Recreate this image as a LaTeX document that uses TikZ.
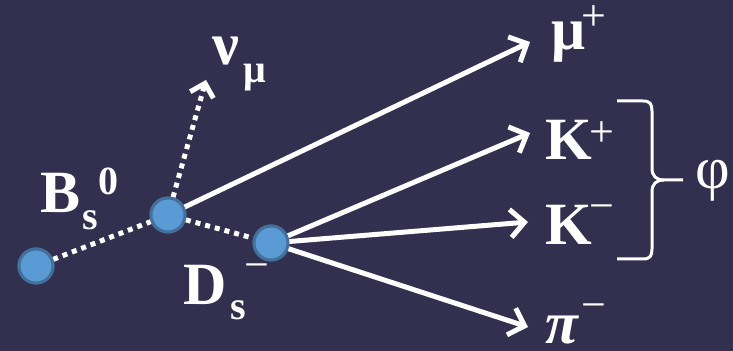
\documentclass[tikz,border=0pt]{standalone}
\usepackage{fontspec}
\setmainfont{Liberation Serif}
\usetikzlibrary{arrows.meta}
\definecolor{bg}{RGB}{51,47,79}
\definecolor{dotfill}{RGB}{91,155,213}
\definecolor{dotline}{RGB}{65,113,156}
\tikzset{
  vtx/.style={circle,fill=dotfill,draw=dotline,line width=1.5pt,minimum size=17pt,inner sep=0pt},
  solidarr/.style={white,line width=2.5pt,line cap=round,-{Straight Barb[length=7pt,width=14pt,line width=2.5pt]}},
  dotln/.style={white,line width=2.5pt,dash pattern=on 2.5pt off 2.5pt},
  dotarr/.style={dotln,-{Straight Barb[length=6pt,width=12pt,line width=2.5pt]}},
  big/.style={text=white,inner sep=0pt,anchor=base west,font=\fontsize{30}{36}\selectfont\bfseries},
  small/.style={text=white,inner sep=0pt,anchor=base west,font=\fontsize{20}{24}\selectfont\bfseries},
  thin/.style={text=white,inner sep=0pt,anchor=center,font=\fontsize{22}{24}\selectfont},
  brace/.style={white,line width=1.5pt}
}
\begin{document}
\begin{tikzpicture}[x=0.5pt,y=-0.5pt]
\fill[bg] (0,0) rectangle (733,351);
\useasboundingbox (0,0) rectangle (733,351);
% vertices
\node[vtx] (b) at (36,266) {};
\node[vtx] (v) at (168,215) {};
\node[vtx] (d) at (271,243) {};
% tip coordinates
\coordinate (nutip) at (206,80);
\coordinate (mutip) at (530,42);
\coordinate (kptip) at (530,133);
\coordinate (kmtip) at (528,222);
\coordinate (pitip) at (528,327);
% connectors
\draw[dotln] (b) -- (v);
\draw[dotln] (v) -- (d);
\draw[dotarr] (v) -- (nutip);
\draw[solidarr] (v) -- (mutip);
\draw[solidarr] (d) -- (kptip);
\draw[solidarr] (d) -- (kmtip);
\draw[solidarr] (d) -- (pitip);
% redraw vertices on top
\node[vtx] at (b) {};
\node[vtx] at (v) {};
\node[vtx] at (d) {};
% labels
\node[big] (B) at (40,213) {B};
\node[small] (Bs) at (82,230) {s};
\node[small] (B0) at (98,195) {0};
\node[big] (nu) at (212,65) {ν};
\node[small] (numu) at (243,83) {μ};
\node[big] (D) at (183,305) {D};
\node[small] (Ds) at (230,320) {s};
\node[thin] (Dm) at (257,272) {−};
\node[big] (mu) at (551,50) {μ};
\node[thin] (mup) at (594,18) {+};
\node[big] (Kp) at (545,160) {K};
\node[thin] (Kpp) at (602,134) {+};
\node[big] (Km) at (545,245) {K};
\node[thin] (Kmm) at (602,213) {−};
\node[big,font=\fontsize{30}{36}\selectfont\bfseries\itshape] (pi) at (545,344) {π};
\node[thin] (pim) at (594,312) {−};
\node[text=white,inner sep=0pt,font=\fontsize{30}{36}\selectfont] (phi) at (713,181) {φ};
% brace
\draw[brace] (617,101) -- (643,101) .. controls (650,101) and (652,104) .. (652,111) -- (652,168) .. controls (652,176) and (656,180) .. (664,180) -- (683,180);
\draw[brace] (617,259) -- (643,259) .. controls (650,259) and (652,256) .. (652,249) -- (652,192) .. controls (652,184) and (656,180) .. (664,180);
\end{tikzpicture}
\end{document}
